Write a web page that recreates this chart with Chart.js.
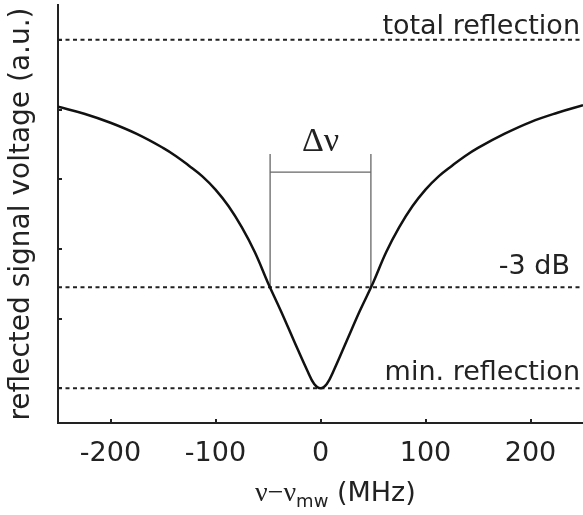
<!DOCTYPE html>
<html>
<head>
<meta charset="utf-8">
<script src="https://cdn.jsdelivr.net/npm/chart.js@4.4.1/dist/chart.umd.min.js"></script>
<style>
  html, body { margin: 0; padding: 0; background: #fff; }
  #wrap { width: 583px; height: 515px; }
</style>
</head>
<body>
<div id="wrap"><canvas id="dipChart"></canvas></div>
<script>
// resonance dip: detuning (MHz) vs reflected voltage (a.u.)
const freqOffsets = [-250, -225, -200, -175, -150, -137.5, -125, -112.5, -100, -87.5, -75, -62.5, -50, -37.5, -25, -12.5, -6, 0,
                     6, 12.5, 25, 37.5, 50, 62.5, 75, 87.5, 100, 112.5, 125, 137.5, 150, 175, 200, 225, 250];
const signalVoltage = [4.04, 3.94, 3.81, 3.65, 3.45, 3.33, 3.19, 3.04, 2.85, 2.61, 2.31, 1.95, 1.51, 1.10, 0.67, 0.25, 0.06, 0.0,
                       0.06, 0.25, 0.68, 1.11, 1.51, 1.95, 2.31, 2.61, 2.85, 3.04, 3.19, 3.33, 3.45, 3.65, 3.82, 3.95, 4.06];

// horizontal reference levels
const levelValues = [5, 1.45, 0];
const levelLabels = ['total reflection', '-3 dB', 'min. reflection'];

// linewidth marker between the -3 dB crossings
const widthEdges = [-48, 48];
const markerTop = 3.36;
const markerBar = 3.10;
const markerLabel = 'Δν';

const xTicks = [-200, -100, 0, 100, 200];
const yTicks = [0, 1, 2, 3, 4, 5];

const SANS = 'DejaVu Sans';
const SERIF = 'Liberation Serif';
const INK = '#222';

const curve = {
    data: freqOffsets.map((f, i) => ({ x: f, y: signalVoltage[i] })),
    borderColor: '#111',
    borderWidth: 2.5,
    pointRadius: 0,
    tension: 0.4,
    fill: false
};

const levelSets = levelValues.map(v => ({
    data: [{ x: -250, y: v }, { x: 250, y: v }],
    borderColor: INK,
    borderWidth: 2,
    borderDash: [4, 3.5],
    pointRadius: 0,
    fill: false
}));

const markerSets = [
    { data: [{ x: widthEdges[0], y: levelValues[1] }, { x: widthEdges[0], y: markerTop }] },
    { data: [{ x: widthEdges[1], y: levelValues[1] }, { x: widthEdges[1], y: markerTop }] },
    { data: [{ x: widthEdges[0], y: markerBar }, { x: widthEdges[1], y: markerBar }] }
].map(d => Object.assign(d, { borderColor: '#666', borderWidth: 1.3, pointRadius: 0, fill: false }));

const annotate = {
    id: 'annotate',
    afterDraw(chart) {
        const { ctx, scales: { x, y }, chartArea } = chart;
        ctx.save();

        // inward tick marks
        ctx.strokeStyle = INK;
        ctx.lineWidth = 2;
        ctx.beginPath();
        xTicks.forEach(v => {
            const px = Math.round(x.getPixelForValue(v));
            ctx.moveTo(px, chartArea.bottom);
            ctx.lineTo(px, chartArea.bottom - 4);
        });
        yTicks.forEach(v => {
            const py = Math.round(y.getPixelForValue(v));
            ctx.moveTo(chartArea.left, py);
            ctx.lineTo(chartArea.left + 4, py);
        });
        ctx.stroke();

        // level names above the dotted lines
        const gaps = [6, 13, 8];
        const rights = [580, 570, 580];
        ctx.fillStyle = INK;
        ctx.font = '27px "' + SANS + '"';
        ctx.textAlign = 'right';
        ctx.textBaseline = 'alphabetic';
        levelLabels.forEach((t, i) => {
            ctx.fillText(t, rights[i], y.getPixelForValue(levelValues[i]) - gaps[i]);
        });

        // Δν over the bracket
        ctx.font = '34px "' + SERIF + '"';
        ctx.textAlign = 'center';
        ctx.fillText(markerLabel, x.getPixelForValue((widthEdges[0] + widthEdges[1]) / 2), y.getPixelForValue(markerTop) - 3);

        // x title with subscript
        const base = 501;
        let cx = 255;
        ctx.textAlign = 'left';
        ctx.font = '28px "' + SERIF + '"';
        ctx.fillText('ν−ν', cx, base);
        cx += ctx.measureText('ν−ν').width;
        ctx.font = '18px "' + SANS + '"';
        ctx.fillText('mw', cx, base + 6);
        cx += ctx.measureText('mw').width;
        ctx.font = '27px "' + SANS + '"';
        ctx.fillText(' (MHz)', cx, base);

        ctx.restore();
    }
};

new Chart(document.getElementById('dipChart'), {
    type: 'line',
    data: { datasets: [curve, ...levelSets, ...markerSets] },
    options: {
        responsive: true,
        maintainAspectRatio: false,
        animation: false,
        layout: { padding: { top: 5, right: 0, left: 0, bottom: 0 } },
        plugins: { legend: { display: false }, tooltip: { enabled: false } },
        scales: {
            x: {
                type: 'linear',
                min: -250,
                max: 250,
                afterBuildTicks: s => { s.ticks = xTicks.map(v => ({ value: v })); },
                afterFit: s => { s.height = 92; },
                grid: { drawOnChartArea: false, drawTicks: false },
                border: { color: INK, width: 2 },
                ticks: { padding: 15, color: INK, font: { family: SANS, size: 27 } }
            },
            y: {
                type: 'linear',
                min: -0.5,
                max: 5.5,
                afterBuildTicks: s => { s.ticks = yTicks.map(v => ({ value: v })); },
                afterFit: s => { s.width = 58; },
                grid: { drawOnChartArea: false, drawTicks: false },
                border: { color: INK, width: 2 },
                ticks: { display: false },
                title: {
                    display: true,
                    text: 'reflected signal voltage (a.u.)',
                    color: INK,
                    font: { family: SANS, size: 28 },
                    padding: { top: 5, bottom: 0 }
                }
            }
        }
    },
    plugins: [annotate]
});
</script>
</body>
</html>
